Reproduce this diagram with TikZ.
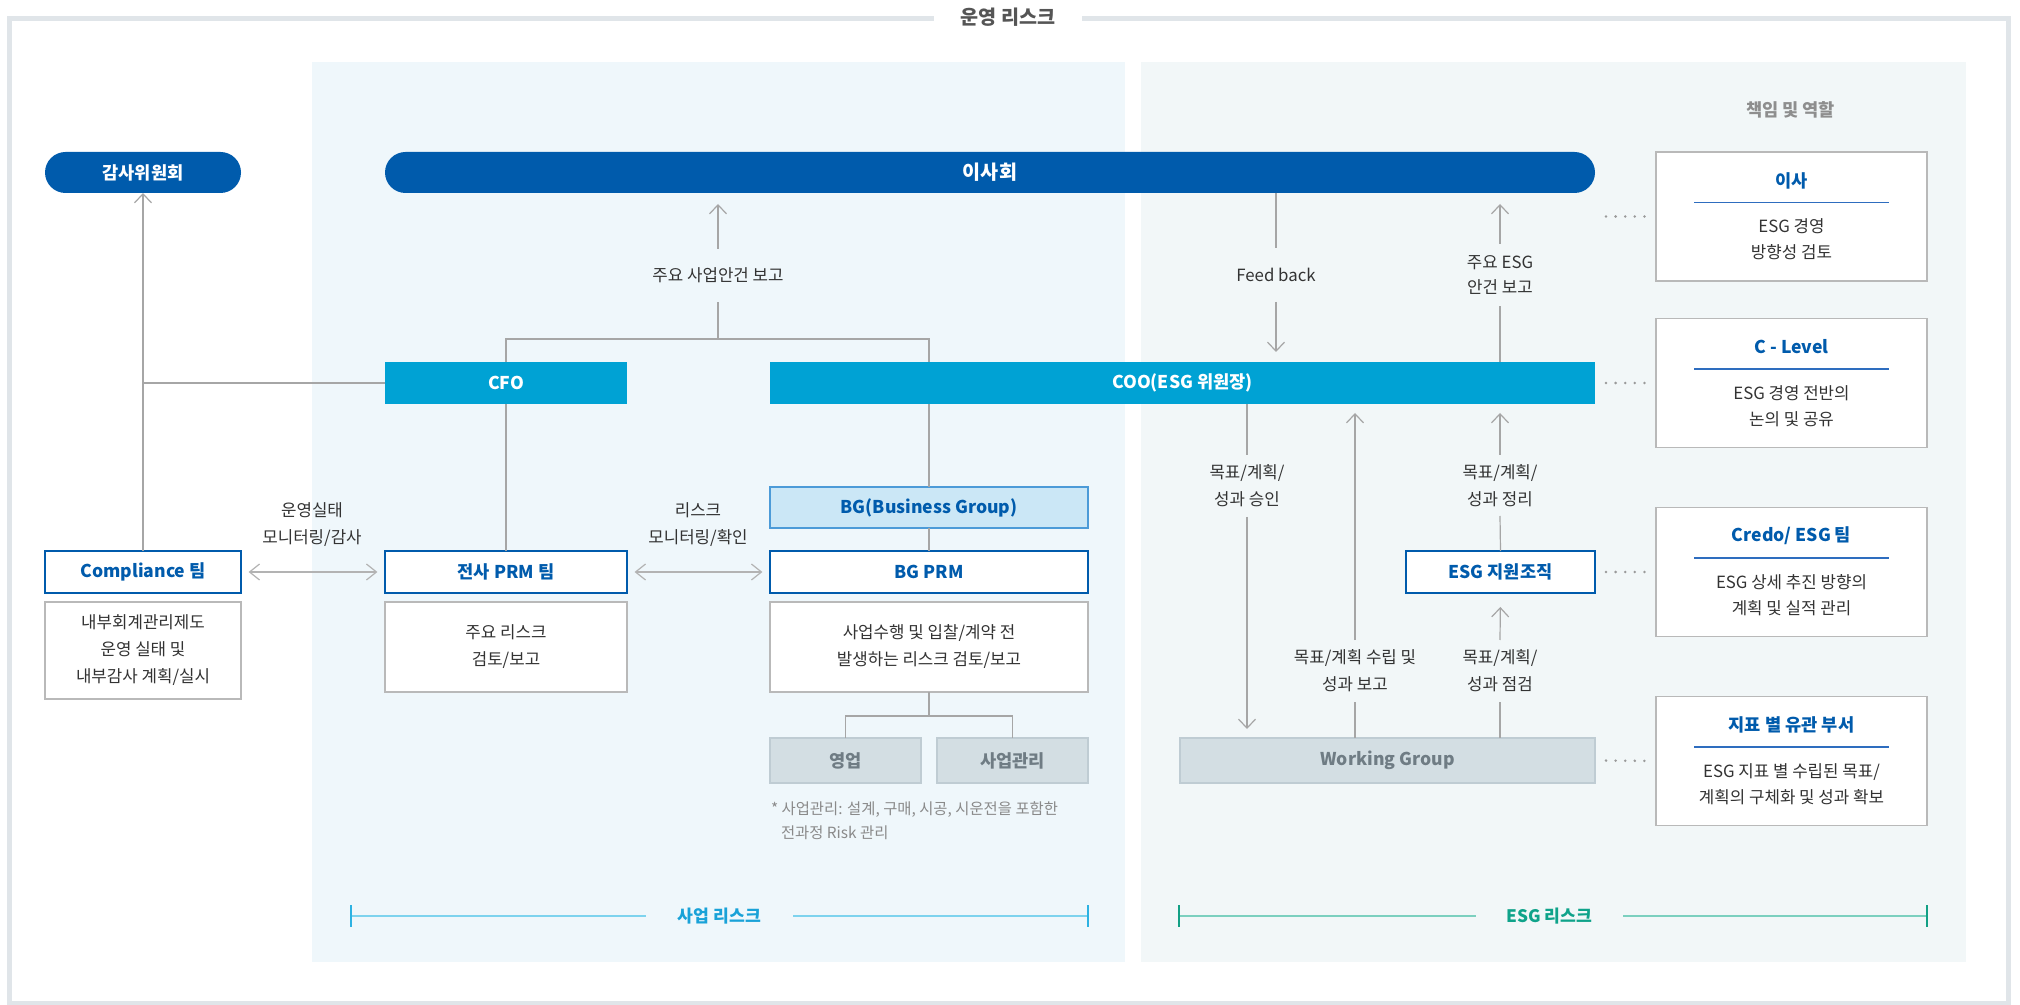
\documentclass[tikz,border=0pt]{standalone}
\usepackage{fontspec}
\setmainfont{Noto Sans CJK KR}
\usetikzlibrary{arrows.meta,calc}
\definecolor{dblue}{HTML}{005BAC}
\definecolor{cbarc}{HTML}{00A2D4}
\definecolor{txt}{HTML}{333333}
\definecolor{boxgray}{HTML}{B9B9B9}
\definecolor{lgray}{HTML}{A6A6A6}
\definecolor{gfill}{HTML}{D3DEE3}
\definecolor{gborder}{HTML}{BFCCD3}
\definecolor{gtext}{HTML}{6F7C84}
\definecolor{bgfill}{HTML}{CBE7F6}
\definecolor{bgborder}{HTML}{4C9BD8}
\definecolor{framegray}{HTML}{E0E5E9}
\definecolor{panelL}{HTML}{EFF7FB}
\definecolor{panelR}{HTML}{F2F7F8}
\definecolor{titlegray}{HTML}{555555}
\definecolor{headgray}{HTML}{8E8E8E}
\definecolor{notegray}{HTML}{8A8A8A}
\definecolor{sepblue}{HTML}{2E6DBF}
\definecolor{cyanline}{HTML}{7DD3EE}
\definecolor{cyantick}{HTML}{2DB2E2}
\definecolor{cyantext}{HTML}{19A2D8}
\definecolor{greenline}{HTML}{7CD0BF}
\definecolor{greentick}{HTML}{13A085}
\definecolor{greentext}{HTML}{0FA38A}
\definecolor{dotgray}{HTML}{9A9A9A}
\newcommand\rgf{\fontsize{8.4pt}{13.5pt}\selectfont}
\newcommand\bdf{\fontsize{8.8pt}{13pt}\selectfont\bfseries}
\begin{document}
\begin{tikzpicture}[x=0.5pt,y=-0.5pt,
  every node/.style={inner sep=0pt,outer sep=0pt},
  pill/.style={fill=dblue,text=white,font=\bdf,rounded corners=10.25pt,minimum height=20.5pt},
  cbar/.style={fill=cbarc,text=white,font=\bdf,minimum height=21pt},
  bbox/.style={draw=dblue,line width=0.9pt,fill=white,text=dblue,font=\bdf,minimum height=21pt},
  bgbox/.style={draw=bgborder,line width=0.9pt,fill=bgfill,text=dblue,font=\bdf,minimum height=20.5pt},
  dbox/.style={draw=boxgray,line width=0.7pt,fill=white,text=txt,font=\rgf,align=center},
  gbox/.style={draw=gborder,line width=1.3pt,fill=gfill,text=gtext,font=\bdf,minimum height=22.5pt},
  rbox/.style={draw=boxgray,line width=0.7pt,fill=white,minimum width=135.5pt,minimum height=64.5pt},
  rtitle/.style={text=dblue,font=\bdf},
  rtext/.style={text=txt,font=\fontsize{8.4pt}{13pt}\selectfont,align=center},
  sepline/.style={draw=sepblue,line width=0.75pt},
  conn/.style={draw=lgray,line width=0.6pt},
  arr/.style={conn,-{Straight Barb[length=4.5pt,width=8.5pt,line width=0.6pt]}},
  dbl/.style={draw=lgray!85,line width=0.9pt,{Straight Barb[length=5pt,width=8pt,line width=0.6pt]}-{Straight Barb[length=5pt,width=8pt,line width=0.6pt]},shorten <=3.8pt,shorten >=3.8pt},
  lab/.style={text=txt,font=\rgf,align=center},
  dotc/.style={draw=dotgray,line width=1.4pt,line cap=round,dash pattern=on 0pt off 4.8pt,shorten <=5.5pt,shorten >=5.5pt},
]
\useasboundingbox (0,0) rectangle (2020,1005);
% panels
\fill[panelL] (312,62) rectangle (1125,962);
\fill[panelR] (1141,62) rectangle (1966,962);
% outer frame
\draw[framegray,line width=2.5pt] (9.5,19) rectangle (2008,1003);
\node[fill=white,minimum width=74pt,minimum height=12pt,text=titlegray,font=\fontsize{9.8pt}{12pt}\selectfont\bfseries] (title) at (1008,17) {운영 리스크};

% heading
\node[text=headgray,font=\bdf] (head) at (1790.5,110) {책임 및 역할};

% main nodes
\node[pill,minimum width=98pt] (gam) at (143,172.5) {감사위원회};
\node[pill,minimum width=605pt,font=\fontsize{9.8pt}{12pt}\selectfont\bfseries] (isahoe) at (990,172.5) {이사회};
\node[cbar,minimum width=121pt] (cfo) at (506,383) {CFO};
\node[cbar,minimum width=412.5pt] (coo) at (1182.5,383) {COO(ESG 위원장)};
\node[bbox,minimum width=98pt] (comp) at (143,572) {Compliance 팀};
\node[dbox,minimum width=98pt,minimum height=48.5pt] (compd) at (143,650.5) {내부회계관리제도\\운영 실태 및\\내부감사 계획/실시};
\node[bbox,minimum width=121pt] (prm) at (506,572) {전사 PRM 팀};
\node[dbox,minimum width=121pt,minimum height=45pt] (prmd) at (506,647) {주요 리스크\\검토/보고};
\node[bgbox,minimum width=159pt] (bg) at (929,507.5) {BG(Business Group)};
\node[bbox,minimum width=159pt] (bgprm) at (929,572) {BG PRM};
\node[dbox,minimum width=159pt,minimum height=45pt] (bgd) at (929,647) {사업수행 및 입찰/계약 전\\발생하는 리스크 검토/보고};
\node[gbox,minimum width=75.5pt] (yy) at (845.5,760.5) {영업};
\node[gbox,minimum width=75.5pt] (sg) at (1012.5,760.5) {사업관리};
\node[bbox,minimum width=94.5pt] (esgs) at (1500.5,572) {ESG 지원조직};
\node[gbox,minimum width=207.5pt] (wg) at (1387.5,760.5) {Working Group};

% footnote
\node[anchor=west,text=notegray,font=\fontsize{7.7pt}{10pt}\selectfont] (note1) at (771,810) {* 사업관리: 설계, 구매, 시공, 시운전을 포함한};
\node[anchor=west,text=notegray,font=\fontsize{7.7pt}{10pt}\selectfont] (note2) at (781,833) {전과정 Risk 관리};

% right boxes
\node[rbox] (r1) at (1791.5,216.5) {};
\node[rtitle] (r1t) at ($(r1.north)+(0,28.5)$) {이사};
\draw[sepline] ($(r1.north)+(-97.5,50.5)$) -- ($(r1.north)+(97.5,50.5)$);
\node[rtext] (r1d) at ($(r1.north)+(0,87.5)$) {ESG 경영\\방향성 검토};

\node[rbox] (r2) at (1791.5,383) {};
\node[rtitle] (r2t) at ($(r2.north)+(0,28.5)$) {C - Level};
\draw[sepline] ($(r2.north)+(-97.5,50.5)$) -- ($(r2.north)+(97.5,50.5)$);
\node[rtext] (r2d) at ($(r2.north)+(0,87.5)$) {ESG 경영 전반의\\논의 및 공유};

\node[rbox] (r3) at (1791.5,572) {};
\node[rtitle] (r3t) at ($(r3.north)+(0,28.5)$) {Credo/ ESG 팀};
\draw[sepline] ($(r3.north)+(-97.5,50.5)$) -- ($(r3.north)+(97.5,50.5)$);
\node[rtext] (r3d) at ($(r3.north)+(0,87.5)$) {ESG 상세 추진 방향의\\계획 및 실적 관리};

\node[rbox] (r4) at (1791.5,761) {};
\node[rtitle] (r4t) at ($(r4.north)+(0,28.5)$) {지표 별 유관 부서};
\draw[sepline] ($(r4.north)+(-97.5,50.5)$) -- ($(r4.north)+(97.5,50.5)$);
\node[rtext] (r4d) at ($(r4.north)+(0,87.5)$) {ESG 지표 별 수립된 목표/\\계획의 구체화 및 성과 확보};

% dotted links
\draw[dotc] (isahoe.east |- r1.west) -- (r1.west);
\draw[dotc] (coo.east) -- (r2.west);
\draw[dotc] (esgs.east) -- (r3.west);
\draw[dotc] (wg.east) -- (r4.west);

% labels on connectors
\node[lab,minimum height=26.5pt] (l1) at (718,275.5) {주요 사업안건 보고};
\node[lab,minimum height=27pt] (l2) at (1276,275) {Feed back};
\node[lab,minimum height=31pt,font=\fontsize{8.4pt}{12.5pt}\selectfont] (l3) at (1500,275) {주요 ESG\\안건 보고};
\node[lab,minimum height=31pt] (l4) at (1247,486) {목표/계획/\\성과 승인};
\node[lab,minimum height=30.5pt] (l5) at (1500,485.5) {목표/계획/\\성과 정리};
\node[lab,minimum height=31pt] (l6) at (1500,671) {목표/계획/\\성과 점검};
\node[lab,minimum height=31pt] (l7) at (1355,671) {목표/계획 수립 및\\성과 보고};
\node[lab] (l8) at (312,524.5) {운영실태\\모니터링/감사};
\node[lab] (l9) at (698,524.5) {리스크\\모니터링/확인};

% connectors, left part
\coordinate (j1) at (718,339);
\draw[conn] (cfo.north) |- (bg.north |- j1) -- (bg.north |- coo.north);
\draw[conn] (j1) -- (l1.south);
\draw[arr,shorten >=5.5pt] (l1.north) -- (l1.north |- isahoe.south);
\draw[conn] (cfo.west) -- (cfo.west -| gam.south);
\draw[arr] (comp.north) -- (gam.south);
\draw[conn] (cfo.south) -- (prm.north);
\draw[conn] (coo.south -| bg.north) -- (bg.north);
\draw[conn] (bg.south) -- (bgprm.north);
\draw[dbl] (comp.east) -- (prm.west);
\draw[dbl] (prm.east) -- (bgprm.west);
\coordinate (j2) at (929,716);
\draw[conn] (bgd.south) -- (j2);
\draw[conn] (yy.north) |- (j2) -| (sg.north);

% connectors, ESG part
\draw[conn] (isahoe.south -| l2.north) -- (l2.north);
\draw[arr,shorten >=5pt] (l2.south) -- (l2.south |- coo.north);
\draw[conn] (coo.north -| l3.south) -- (l3.south);
\draw[arr,shorten >=5.5pt] (l3.north) -- (l3.north |- isahoe.south);
\draw[conn] (coo.south -| l4.north) -- (l4.north);
\draw[arr,shorten >=4.5pt] (l4.south) -- (l4.south |- wg.north);
\draw[conn] (esgs.north) -- (l5.south);
\draw[arr,shorten >=4.5pt] (l5.north) -- (l5.north |- coo.south);
\draw[conn] (wg.north -| l6.south) -- (l6.south);
\draw[arr,shorten >=7pt] (l6.north) -- (esgs.south);
\draw[conn] (wg.north -| l7.south) -- (l7.south);
\draw[arr,shorten >=4.5pt] (l7.north) -- (l7.north |- coo.south);

% bottom brackets
\coordinate (b1l) at (351,916);
\coordinate (b1r) at (1088,916);
\node[minimum width=73.5pt,text=cyantext,font=\fontsize{8.6pt}{10pt}\selectfont\bfseries] (b1) at (719.5,916) {사업 리스크};
\draw[cyanline,line width=1.3pt] (b1l) -- (b1.west) (b1.east) -- (b1r);
\draw[cyantick,line width=0.6pt] ($(b1l)+(0,-11)$) -- ($(b1l)+(0,11)$) ($(b1r)+(0,-11)$) -- ($(b1r)+(0,11)$);
\coordinate (b2l) at (1179,916);
\coordinate (b2r) at (1927,916);
\node[minimum width=73.5pt,text=greentext,font=\fontsize{8.6pt}{10pt}\selectfont\bfseries] (b2) at (1549.5,916) {ESG 리스크};
\draw[greenline,line width=1.3pt] (b2l) -- (b2.west) (b2.east) -- (b2r);
\draw[greentick,line width=0.6pt] ($(b2l)+(0,-11)$) -- ($(b2l)+(0,11)$) ($(b2r)+(0,-11)$) -- ($(b2r)+(0,11)$);
\end{tikzpicture}
\end{document}
